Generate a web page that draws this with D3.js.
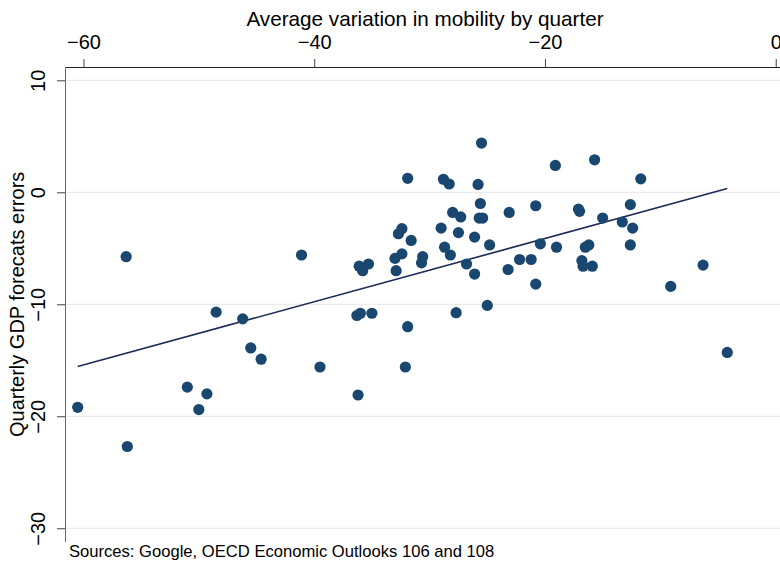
<!DOCTYPE html>
<html>
<head>
<meta charset="utf-8">
<script src="https://cdn.jsdelivr.net/npm/d3@7"></script>
<style>
  body { margin: 0; background: #fff; }
  svg { font-family: "Liberation Sans", Arial, sans-serif; }
</style>
</head>
<body>
<svg id="chart"></svg>
<script>
// average variation in mobility by quarter (x) and quarterly GDP forecast errors (y)
const mobility = [
  -60.5, -56.3, -56.2, -51.0, -50.0, -49.3, -48.5, -46.2, -45.5, -44.6,
  -41.1, -39.5, -36.2, -36.3, -36.0, -35.0, -36.1, -35.8, -35.3, -33.0,
  -32.4, -32.9, -32.4, -32.7, -31.9, -31.6, -31.9, -32.1, -30.6, -30.7,
  -29.0, -28.8, -28.3, -28.7, -28.2, -28.0, -27.3, -27.5, -27.7, -26.8,
  -26.1, -26.1, -25.8, -25.5, -25.6, -25.7, -25.4, -24.8, -25.0, -23.1,
  -23.2, -22.2, -21.2, -20.8, -20.4, -20.8, -19.1, -19.0, -17.1, -17.0,
  -16.8, -16.7, -16.5, -16.2, -15.9, -15.7, -15.0, -13.3, -12.6, -12.4,
  -12.6, -11.7, -9.1, -6.3, -4.2
];
const gdpError = [
  -19.2, -5.75, -22.7, -17.4, -19.4, -18.0, -10.7, -11.3, -13.9, -14.9,
  -5.6, -15.6, -18.1, -11.0, -10.8, -10.8, -6.6, -7.0, -6.4, -5.9,
  -5.5, -7.0, -3.25, -3.7, 1.25, -4.3, -12.0, -15.6, -5.75, -6.3,
  -3.2, 1.16, 0.74, -4.9, -5.6, -1.8, -2.2, -3.6, -10.75, -6.4,
  -4.0, -7.3, 0.7, 4.4, -1.0, -2.3, -2.3, -4.7, -10.1, -1.8,
  -6.9, -6.0, -6.0, -1.2, -4.6, -8.2, 2.4, -4.9, -1.5, -1.7,
  -6.1, -6.6, -4.9, -4.7, -6.6, 2.9, -2.3, -2.65, -1.1, -3.2,
  -4.7, 1.2, -8.4, -6.5, -14.3
];
const xTicks = [-60, -40, -20, 0];
const yTicks = [10, 0, -10, -20, -30];

const xTitle = "Average variation in mobility by quarter";
const yTitle = "Quarterly GDP forecats errors";
const note = "Sources: Google, OECD Economic Outlooks 106 and 108";

const width = 780, height = 563;
const margin = {top: 67, left: 65};
const plotRight = 789, plotBottom = 541.7;

const svg = d3.select("#chart")
    .attr("width", width)
    .attr("height", height);

const data = mobility.map((m, i) => ({x: m, y: gdpError[i]}));

const x = d3.scaleLinear()
    .domain([-61.6, 1.15])
    .range([margin.left, plotRight]);
const y = d3.scaleLinear()
    .domain([-31.2, 11.19])
    .range([plotBottom, margin.top]);

// horizontal grid
svg.append("g")
  .selectAll("line")
  .data(yTicks)
  .join("line")
    .attr("x1", margin.left)
    .attr("x2", plotRight)
    .attr("y1", d => y(d))
    .attr("y2", d => y(d))
    .attr("stroke", "#e6e6e6")
    .attr("stroke-width", 1);

// top x axis
const xAxisG = svg.append("g")
    .attr("transform", `translate(0,${margin.top})`)
    .call(d3.axisTop(x).tickValues(xTicks).tickSize(8).tickPadding(10).tickSizeOuter(0));
xAxisG.select(".domain").attr("stroke", "#222");
xAxisG.selectAll(".tick line").attr("stroke", "#444");
xAxisG.selectAll(".tick text")
    .attr("fill", "#000")
    .style("font-size", "20px");

// left y axis with rotated labels
const yAxisG = svg.append("g")
    .attr("transform", `translate(${margin.left},0)`)
    .call(d3.axisLeft(y).tickValues(yTicks).tickSize(8).tickSizeOuter(0));
yAxisG.select(".domain").attr("stroke", "#666");
yAxisG.selectAll(".tick line").attr("stroke", "#444");
yAxisG.selectAll(".tick text").remove();
yAxisG.selectAll(".tick")
  .append("text")
    .attr("transform", "translate(-20,0) rotate(-90)")
    .attr("text-anchor", "middle")
    .attr("fill", "#000")
    .style("font-size", "20px")
    .text(d => d3.format("")(d).replace("-", "\u2212"));

// linear fit
const mx = d3.mean(data, d => d.x), my = d3.mean(data, d => d.y);
const slope = d3.sum(data, d => (d.x - mx) * (d.y - my)) / d3.sum(data, d => (d.x - mx) ** 2);
const intercept = my - slope * mx;
const xr = d3.extent(data, d => d.x);
svg.append("line")
    .attr("x1", x(xr[0]))
    .attr("y1", y(intercept + slope * xr[0]))
    .attr("x2", x(xr[1]))
    .attr("y2", y(intercept + slope * xr[1]))
    .attr("stroke", "#1c2a57")
    .attr("stroke-width", 1.6);

// points
svg.append("g")
  .selectAll("circle")
  .data(data)
  .join("circle")
    .attr("cx", d => x(d.x))
    .attr("cy", d => y(d.y))
    .attr("r", 5.6)
    .attr("fill", "#1a4770");

// titles
svg.append("text")
    .attr("x", (margin.left + plotRight) / 2 - 2)
    .attr("y", 26)
    .attr("text-anchor", "middle")
    .style("font-size", "20.7px")
    .text(xTitle);

svg.append("text")
    .attr("transform", `translate(24,${(margin.top + plotBottom) / 2}) rotate(-90)`)
    .attr("text-anchor", "middle")
    .style("font-size", "20px")
    .text(yTitle);

svg.append("text")
    .attr("x", 69)
    .attr("y", 557)
    .style("font-size", "16.6px")
    .text(note);
</script>
</body>
</html>
